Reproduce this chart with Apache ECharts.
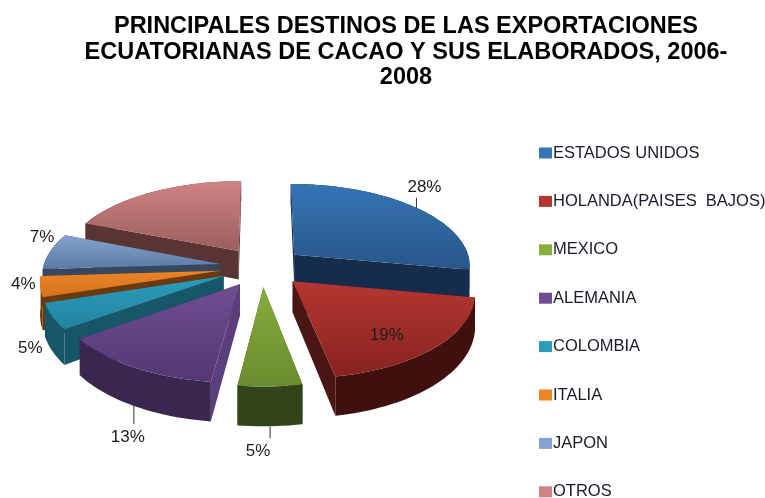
<!DOCTYPE html>
<html><head><meta charset="utf-8">
<style>html,body{margin:0;padding:0;background:#fff}#c{width:765px;height:498px}</style>
<script src="https://cdn.jsdelivr.net/npm/echarts@6/dist/echarts.min.js"></script>
</head><body><div id="c"></div>
<script>
const titleLines = ["PRINCIPALES DESTINOS DE LAS EXPORTACIONES","ECUATORIANAS DE CACAO Y SUS ELABORADOS, 2006-","2008"];
const categories = ["ESTADOS UNIDOS","HOLANDA(PAISES  BAJOS)","MEXICO","ALEMANIA","COLOMBIA","ITALIA","JAPON","OTROS"];
const shares = [28,19,5,13,5,4,7,19];
const paintOrder = [7,6,5,4,3,2,0,1];
const topLight = ["#3674b5","#b43732","#87ad3d","#6f4d92","#2b9bb9","#ec8427","#84a3d0","#cf8383"];
const topDark  = ["#27568a","#88221f","#6a8b2f","#533873","#2284a1","#d3721e","#5d7aa3","#9c5e5e"];
const rimColor = ["#162c4c","#3f100d","#34441a","#3a2750","#175668","#6b3a0c","#37475f","#583432"];
const edgeStart= ["#162c4c","#4a1512","#34441a","#5a3f7c","#175668","#6b3a0c","#37475f","#583432"];
const edgeEnd  = ["#162c4c","#4a1512","#34441a","#3a2750","#175668","#6b3a0c","#37475f","#583432"];
// Label placement: radial fraction of the rim, whether it sits under the wall, shift from that anchor, leader length
const labelPlace = [
 {r:1, wall:0, dx:8,  dy:-20, lead:10},
 {r:.5,wall:0, dx:26, dy:23,  lead:0},
 {r:1, wall:1, dx:-12,dy:25,  lead:12},
 {r:1, wall:1, dx:-6, dy:31,  lead:18},
 {r:1, wall:1, dx:-22,dy:-3,  lead:0},
 {r:1, wall:0, dx:-17,dy:-2,  lead:0},
 {r:1, wall:0, dx:-8, dy:-14, lead:0},
 null];
// Perspective of the tilted disc
const disc = {cx:262, cy:267, A:177, B:82, k:.12, explode:.24, depth:30, depthZ:8};
const total = shares.reduce((a,b)=>a+b,0);
const rad = d=>d*Math.PI/180;
const proj = (X,Z)=>{const s=1/(1-disc.k*Z);return [disc.cx+disc.A*X*s, disc.cy+disc.B*Z*s];};
const wallH = Z=>disc.depth+disc.depthZ*Z;

function sliceElements(i){
  let cum=0; for(let j=0;j<i;j++) cum+=shares[j];
  const a0=cum/total*360, a1=(cum+shares[i])/total*360, mid=(a0+a1)/2;
  const ox=Math.sin(rad(mid))*disc.explode, oz=-Math.cos(rad(mid))*disc.explode;
  const pt=(deg,r)=>{const X=ox+r*Math.sin(rad(deg)),Z=oz-r*Math.cos(rad(deg));const p=proj(X,Z);return {p,h:wallH(Z)};};
  const down=q=>[q.p[0],q.p[1]+q.h];
  const arc=[]; const n=Math.max(6,Math.ceil((a1-a0)/2));
  for(let t=0;t<=n;t++) arc.push(pt(a0+(a1-a0)*t/n,1));
  const apex=pt(0,0);
  const els=[];
  const poly=(points,fill,z)=>els.push({type:'polygon',z2:z,silent:true,shape:{points},style:{fill}});
  poly([apex.p,arc[n].p,down(arc[n]),down(apex)],edgeEnd[i],1);
  poly([apex.p,arc[0].p,down(arc[0]),down(apex)],edgeStart[i],2);
  poly(arc.map(q=>q.p).concat(arc.slice().reverse().map(down)),rimColor[i],3);
  poly([apex.p].concat(arc.map(q=>q.p)),{type:'linear',x:0,y:0,x2:0,y2:1,colorStops:[{offset:0,color:topLight[i]},{offset:1,color:topDark[i]}]},4);
  const lp=labelPlace[i];
  if(lp){
    const q=pt(mid,lp.r); const a=lp.wall?down(q):q.p;
    if(lp.lead) els.push({type:'line',z2:5,silent:true,shape:{x1:a[0],y1:a[1],x2:a[0],y2:a[1]+(lp.dy<0?-lp.lead:lp.lead)},style:{stroke:'#333',lineWidth:1}});
    els.push({type:'text',z2:6,silent:true,x:a[0]+lp.dx,y:a[1]+lp.dy,style:{text:shares[i]+'%',fill:'#1c1c1c',font:'17px "Liberation Sans"',align:'center',verticalAlign:'middle'}});
  }
  return {type:'group',children:els};
}

const chart=echarts.init(document.getElementById('c'),null,{renderer:'canvas'});
chart.setOption({
  animation:false,
  backgroundColor:'#fff',
  title:{text:titleLines.join('\n'),left:406,top:14,padding:0,textAlign:'center',
    textStyle:{fontFamily:'"Liberation Sans"',fontSize:23.5,fontWeight:'bold',color:'#000',lineHeight:25.5}},
  legend:{orient:'vertical',left:539,top:144,height:420,padding:0,itemWidth:13,itemHeight:11,itemGap:30.4,icon:'rect',selectedMode:false,
    data:categories,textStyle:{fontFamily:'"Liberation Sans"',fontSize:16.5,color:'#1a1a2a',lineHeight:18,padding:[0,0,0,-4]}},
  series:paintOrder.map(i=>({
    type:'custom',name:categories[i],coordinateSystem:'none',z:2+paintOrder.indexOf(i),silent:true,
    itemStyle:{color:topLight[i]},
    data:[[shares[i]]],
    renderItem:()=>sliceElements(i)
  }))
});
</script></body></html>
